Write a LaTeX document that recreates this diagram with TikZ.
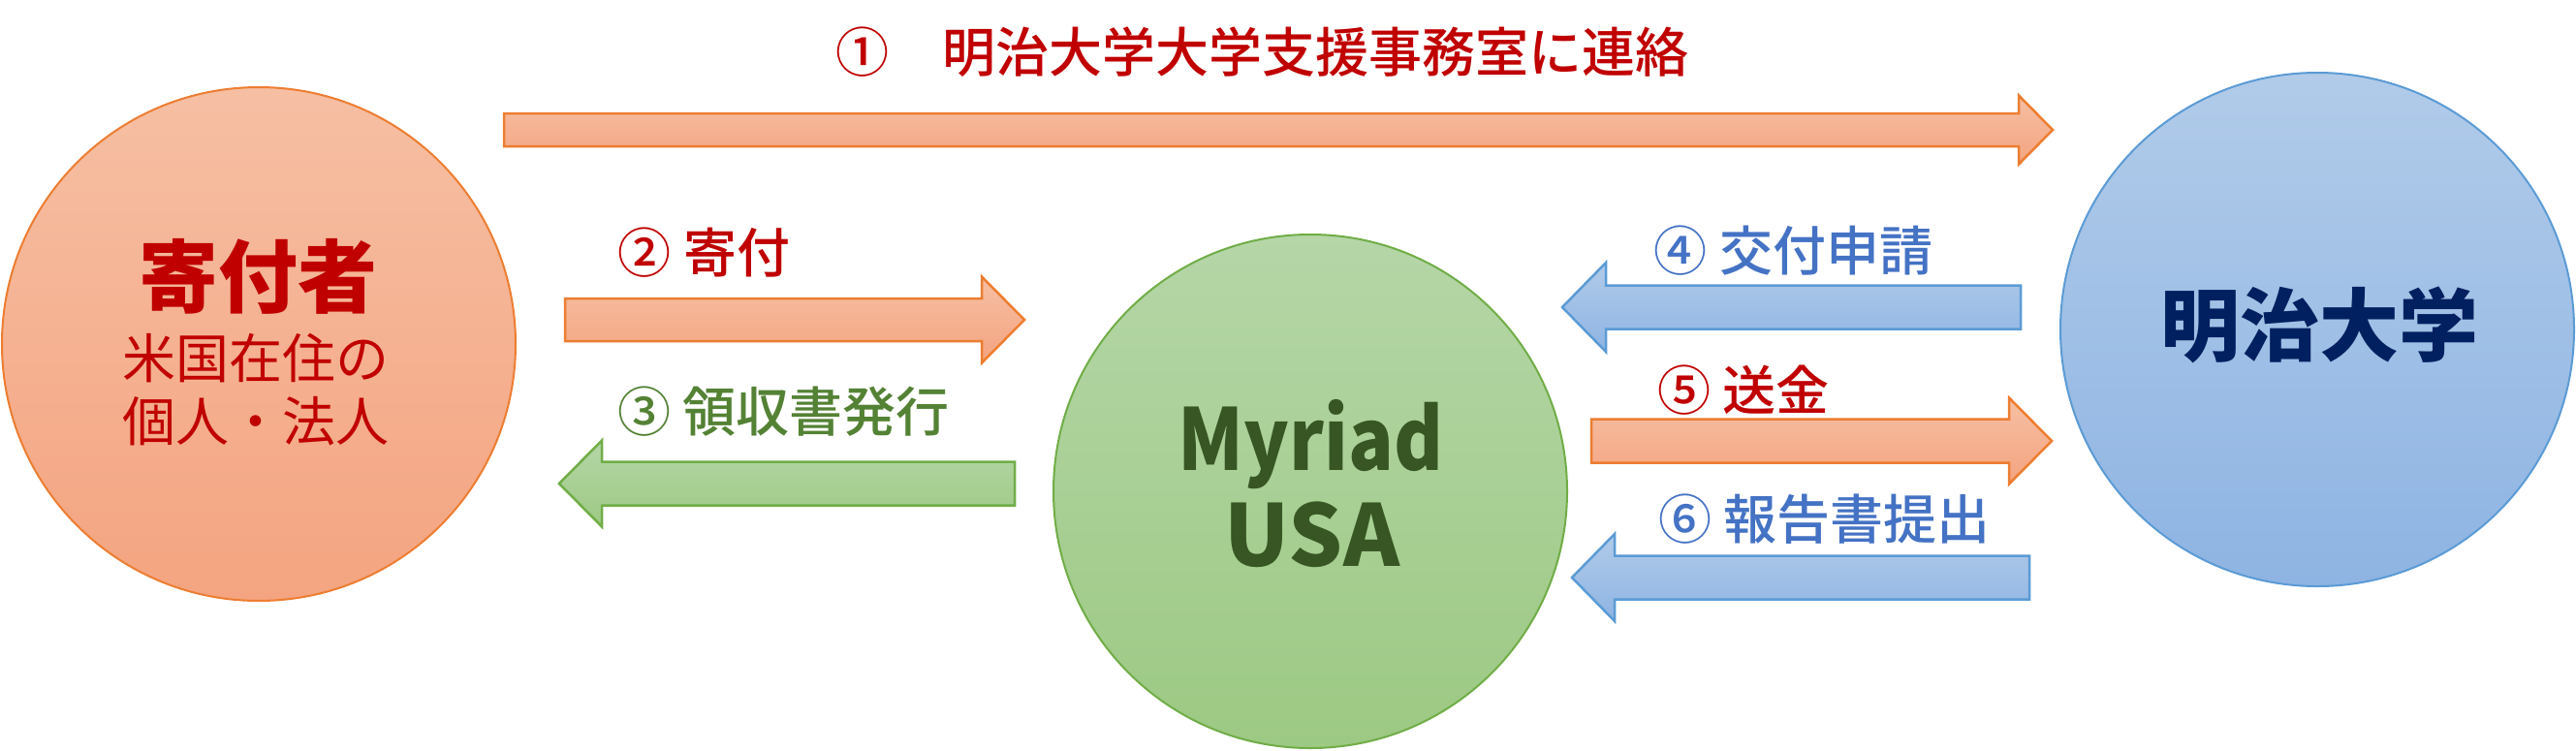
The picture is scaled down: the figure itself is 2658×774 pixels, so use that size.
\documentclass[tikz,border=0pt]{standalone}
\usepackage{fontspec}
\setmainfont{Noto Sans CJK JP}
\newfontfamily\medfont{Noto Sans CJK JP Medium}
\definecolor{orgline}{HTML}{ED7D31}
\definecolor{orgtop}{HTML}{F6BFA3}
\definecolor{orgbot}{HTML}{F4A480}
\definecolor{grnline}{HTML}{70AD47}
\definecolor{grntop}{HTML}{B5D6A7}
\definecolor{grnbot}{HTML}{9CC983}
\definecolor{bluline}{HTML}{5B9BD5}
\definecolor{blutop}{HTML}{B1CBE9}
\definecolor{blubot}{HTML}{8EB4E3}
\definecolor{txtred}{HTML}{C00000}
\definecolor{txtgreen}{HTML}{548235}
\definecolor{txtblue}{HTML}{4472C4}
\definecolor{txtdgreen}{HTML}{375623}
\definecolor{txtnavy}{HTML}{002060}
\tikzset{
  orgshape/.style={draw=orgline, top color=orgtop, bottom color=orgbot},
  grnshape/.style={draw=grnline, top color=grntop, bottom color=grnbot},
  blushape/.style={draw=bluline, top color=blutop, bottom color=blubot},
  bigcircle/.style={circle, minimum size=530pt, inner sep=0pt, line width=2pt},
  flowarrow/.style={line width=2.5pt, line join=miter},
  lbl/.style={anchor=base, inner sep=0pt, font=\fontsize{55}{66}\selectfont},
  arrlbl/.style={lbl, font=\fontsize{55}{66}\medfont},
  bigtxt/.style={anchor=base, inner sep=0pt, font=\fontsize{82}{96}\selectfont\bfseries},
  myrtxt/.style={anchor=base, inner sep=0pt, font=\fontsize{88}{100}\selectfont\bfseries, text=txtdgreen},
}
% #1 style, #2 tail x, #3 head base x, #4 tip x, #5 centre y, #6 shaft half, #7 head half
\newcommand\blockarrow[7]{%
  \path[flowarrow,#1] (#2,#5-#6) -- (#3,#5-#6) -- (#3,#5-#7) -- (#4,#5)
    -- (#3,#5+#7) -- (#3,#5+#6) -- (#2,#5+#6) -- cycle;}
\begin{document}
\begin{tikzpicture}[x=1pt,y=-1pt]
\useasboundingbox (0,0) rectangle (2658,774);
% circles
\node[bigcircle, orgshape] (donor) at (267,355) {};
\node[bigcircle, grnshape] (myriad) at (1352,507) {};
\node[bigcircle, blushape] (meiji) at (2391,340) {};
% circle texts
\node[bigtxt, text=txtred] (donorname) at (266,316) {寄付者};
\node[lbl, text=txtred] (donorsub1) at (264,390) {米国在住の};
\node[lbl, text=txtred] (donorsub2) at (264,455.5) {個人・法人};
\node[myrtxt] (myr1) at (1352.5,485) {\scalebox{0.88}[1]{Myriad}};
\node[myrtxt] (myr2) at (1354,584) {USA};
\node[bigtxt, text=txtnavy] (meijiname) at (2393,366) {明治大学};
% arrows
\blockarrow{orgshape}{520}{2083}{2118}{134}{17}{35.5}
\blockarrow{orgshape}{583}{1013}{1057}{330}{22}{44.5}
\blockarrow{grnshape}{1047}{621}{577}{499}{22.5}{44.5}
\blockarrow{blushape}{2085}{1657}{1612}{317}{22.5}{46}
\blockarrow{orgshape}{1642}{2073}{2117}{455}{22.5}{44.5}
\blockarrow{blushape}{2094}{1666}{1622}{596}{22.5}{45}
% labels
\node[arrlbl, text=txtred] (l1) at (1302.5,74) {①　明治大学大学支援事務室に連絡};
\node[arrlbl, text=txtred] (l2) at (726.5,281) {② 寄付};
\node[arrlbl, text=txtgreen] (l3) at (808.5,445) {③ 領収書発行};
\node[arrlbl, text=txtblue] (l4) at (1850.5,279) {④ 交付申請};
\node[arrlbl, text=txtred] (l5) at (1799,423) {⑤ 送金};
\node[arrlbl, text=txtblue] (l6) at (1882.5,556) {⑥ 報告書提出};
\end{tikzpicture}
\end{document}
